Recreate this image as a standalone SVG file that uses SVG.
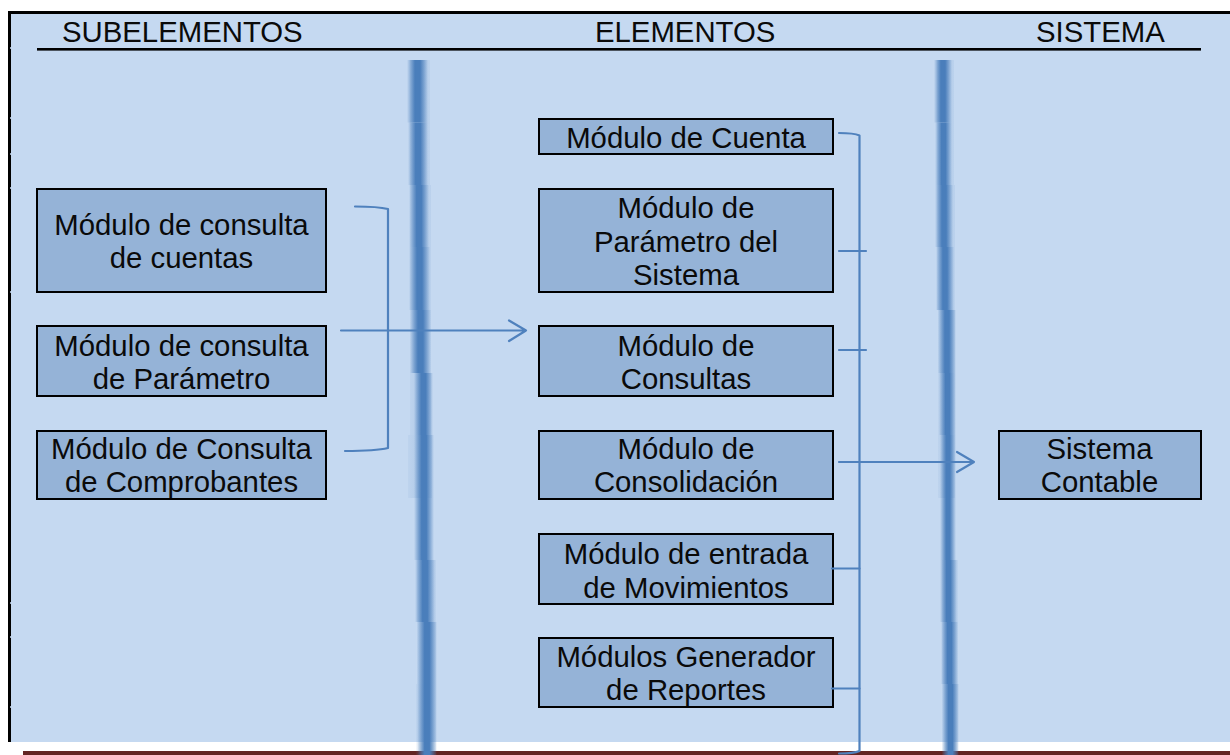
<svg xmlns="http://www.w3.org/2000/svg" width="1230" height="755" viewBox="0 0 1230 755">
<style>
.box{fill:#95B3D7;stroke:#000;stroke-width:2}
.t{font-family:"Liberation Sans",Arial,sans-serif;font-size:29.33px;fill:#0a0a0a;text-anchor:middle}
.h{font-family:"Liberation Sans",Arial,sans-serif;font-size:29.33px;fill:#0a0a0a}
.c{fill:none;stroke:#4F81BD;stroke-width:2.2;stroke-linecap:round;stroke-linejoin:round}
.core{fill:url(#coreG)}
.halo{fill:url(#haloG)}
</style>
<defs>
<linearGradient id="coreG" x1="0" y1="0" x2="1" y2="0">
<stop offset="0" stop-color="#4A7EBB" stop-opacity="0"/>
<stop offset="0.2" stop-color="#4A7EBB" stop-opacity="0.55"/>
<stop offset="0.38" stop-color="#4A7EBB" stop-opacity="1"/>
<stop offset="0.62" stop-color="#4A7EBB" stop-opacity="1"/>
<stop offset="0.8" stop-color="#4A7EBB" stop-opacity="0.55"/>
<stop offset="1" stop-color="#4A7EBB" stop-opacity="0"/>
</linearGradient>
<linearGradient id="haloG" x1="0" y1="0" x2="1" y2="0">
<stop offset="0" stop-color="#4A7EBB" stop-opacity="0.06"/>
<stop offset="0.5" stop-color="#4A7EBB" stop-opacity="0.18"/>
<stop offset="1" stop-color="#4A7EBB" stop-opacity="0.08"/>
</linearGradient>
</defs>
<rect x="0" y="0" width="1230" height="755" fill="#fff"/>
<rect x="11" y="14" width="1219" height="728" fill="#C5D9F1"/>
<rect x="8" y="11" width="1222" height="3" fill="#000"/>
<rect x="8" y="11" width="3" height="731" fill="#000"/>
<path d="M10 48h1M10 118h1M10 154h1M10 188h1M10 292h1M10 603h1M10 637h1M10 707h1" stroke="#C5D9F1" stroke-width="1.5" fill="none"/>
<rect x="23" y="751" width="1207" height="4" fill="#632523"/>
<rect x="37" y="48" width="1164" height="2.6" fill="#000"/>
<text class="h" x="62" y="42">SUBELEMENTOS</text>
<text class="h" x="595" y="42">ELEMENTOS</text>
<text class="h" x="1036" y="42">SISTEMA</text>

<g id="divider-left">
<rect class="halo" x="410" y="60" width="20" height="62.500"/><rect class="core" x="407" y="60" width="21" height="62.500"/>
<rect class="halo" x="410" y="122.500" width="20" height="62.500"/><rect class="core" x="408" y="122.500" width="20" height="62.500"/>
<rect class="halo" x="410" y="185" width="21" height="62"/><rect class="core" x="409" y="185" width="20" height="62"/>
<rect class="halo" x="410" y="247" width="21" height="63"/><rect class="core" x="409" y="247" width="21" height="63"/>
<rect class="halo" x="410" y="310" width="21" height="63"/><rect class="core" x="410" y="310" width="21" height="63"/>
<rect class="halo" x="410" y="373" width="21" height="62"/><rect class="core" x="414" y="373" width="19" height="62"/>
<rect class="halo" x="408" y="435" width="24" height="63"/><rect class="core" x="414" y="435" width="20" height="63"/>
<rect class="core" x="414" y="498" width="20" height="62"/>
<rect class="halo" x="417" y="560" width="19" height="62"/><rect class="core" x="415" y="560" width="20" height="62"/>
<rect class="halo" x="417" y="622" width="19" height="62"/><rect class="core" x="417" y="622" width="20" height="62"/>
<rect class="halo" x="416" y="684" width="20" height="71"/><rect class="core" x="417" y="684" width="20" height="71"/>
</g>
<g id="divider-right">
<rect class="halo" x="937" y="60" width="17" height="62.500"/><rect class="core" x="934" y="60" width="18" height="62.500"/>
<rect class="halo" x="937" y="122.500" width="17" height="62.500"/><rect class="core" x="935" y="122.500" width="17" height="62.500"/>
<rect class="halo" x="937" y="185" width="18" height="62"/><rect class="core" x="935" y="185" width="18" height="62"/>
<rect class="halo" x="937" y="247" width="18" height="63"/><rect class="core" x="936" y="247" width="18" height="63"/>
<rect class="halo" x="938" y="310" width="17" height="63"/><rect class="core" x="938" y="310" width="18" height="63"/>
<rect class="halo" x="938" y="373" width="17" height="62"/><rect class="core" x="939" y="373" width="17" height="62"/>
<rect class="halo" x="938" y="435" width="17" height="63"/><rect class="core" x="940" y="435" width="16" height="63"/>
<rect class="core" x="940" y="498" width="16" height="62"/>
<rect class="halo" x="942" y="560" width="16" height="62"/><rect class="core" x="940" y="560" width="17" height="62"/>
<rect class="halo" x="942" y="622" width="16" height="62"/><rect class="core" x="941" y="622" width="17" height="62"/>
<rect class="halo" x="942" y="684" width="16" height="71"/><rect class="core" x="942" y="684" width="17" height="71"/>
</g>

<g id="n-consulta-cuentas"><rect class="box" x="37" y="189" width="289" height="103"/><text class="t" x="181.500" y="235">Módulo de consulta</text><text class="t" x="181.500" y="267.500">de cuentas</text></g>
<g id="n-consulta-parametro"><rect class="box" x="37" y="326" width="289" height="70"/><text class="t" x="181.500" y="355.500">Módulo de consulta</text><text class="t" x="181.500" y="388.500">de Parámetro</text></g>
<g id="n-consulta-comprobantes"><rect class="box" x="37" y="431" width="289" height="68"/><text class="t" x="181.500" y="458.500">Módulo de Consulta</text><text class="t" x="181.500" y="491.500">de Comprobantes</text></g>
<g id="n-cuenta"><rect class="box" x="539" y="119" width="294" height="35"/><text class="t" x="686" y="147.500">Módulo de Cuenta</text></g>
<g id="n-parametro"><rect class="box" x="539" y="189" width="294" height="103"/><text class="t" x="686" y="218">Módulo de</text><text class="t" x="686" y="251.500">Parámetro del</text><text class="t" x="686" y="285">Sistema</text></g>
<g id="n-consultas"><rect class="box" x="539" y="326" width="294" height="70"/><text class="t" x="686" y="355.500">Módulo de</text><text class="t" x="686" y="388.500">Consultas</text></g>
<g id="n-consolidacion"><rect class="box" x="539" y="431" width="294" height="68"/><text class="t" x="686" y="458.500">Módulo de</text><text class="t" x="686" y="491.500">Consolidación</text></g>
<g id="n-entrada"><rect class="box" x="539" y="534" width="294" height="70"/><text class="t" x="686" y="564">Módulo de entrada</text><text class="t" x="686" y="597.500">de Movimientos</text></g>
<g id="n-generador"><rect class="box" x="539" y="638" width="294" height="69"/><text class="t" x="686" y="666.500">Módulos Generador</text><text class="t" x="686" y="699.500">de Reportes</text></g>
<g id="n-sistema"><rect class="box" x="999" y="431" width="202" height="68"/><text class="t" x="1099.500" y="458.500">Sistema</text><text class="t" x="1099.500" y="491.500">Contable</text></g>

<g id="connectors">
<path class="c" d="M355 206.500C368 206.500 380 207 388 209V448C380 450 365 451 345 451"/>
<path class="c" d="M341 330.500H526M509 320.500L526 330.500L509 341"/>
<path class="c" d="M839 133C848 133 855 133.500 859.500 135.500V751C855 753 848 753.500 839 753.500"/>
<path class="c" d="M839 251H866M839 350H866M832 568.500H859.500M832 688.500H859.500"/>
<path class="c" d="M839 462H974M957 452L974 462L957 472"/>
</g>
</svg>
